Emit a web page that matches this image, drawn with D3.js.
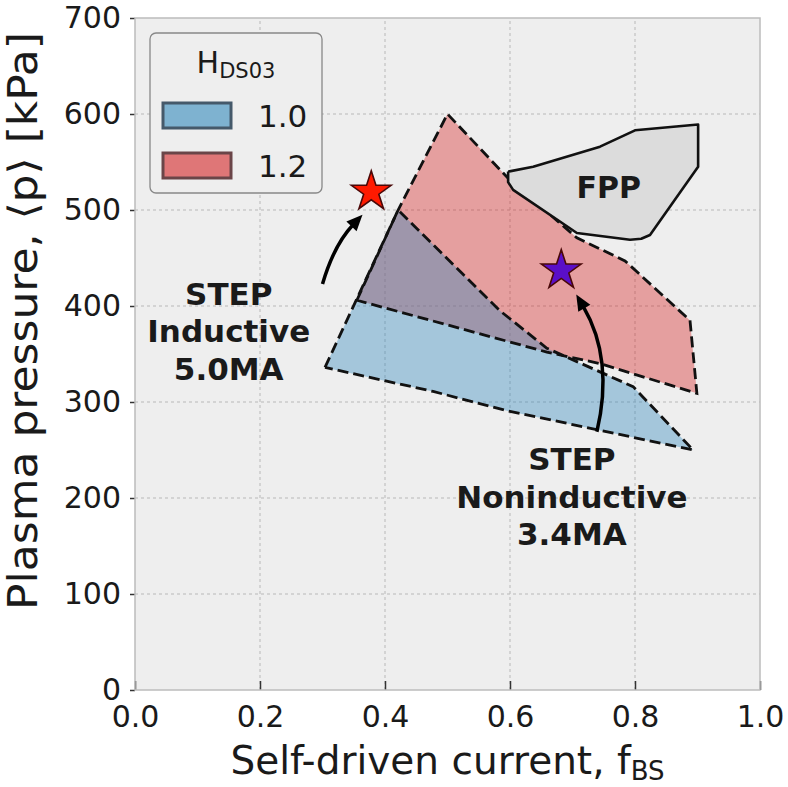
<html>
<head>
<meta charset="UTF-8"/>
<script src="https://d3js.org/d3.v7.min.js"></script>
<title>STEP operating space</title>
<style>
body { margin:0; background:#fff; }
text { font-family: 'DejaVu Sans', sans-serif; fill:#1a1a1a; }
</style>
</head>
<body>
<svg id='big' width=788 height=787></svg>
<script>
'use strict';

// axes
var xTicks = [0.0, 0.2, 0.4, 0.6, 0.8, 1.0];
var yTicks = [0, 100, 200, 300, 400, 500, 600, 700];

// H_DS03 = 1.0 region (fBS, kPa)
var regionH10 = [[0.304,336],[0.421,500],[0.584,395],[0.659,356],[0.797,316],
                 [0.893,250],[0.595,291],[0.477,311],[0.304,336]];
// H_DS03 = 1.2 region
var regionH12 = [[0.355,406],[0.421,500],[0.500,600],[0.597,533],[0.707,471],
                 [0.784,447],[0.888,385],[0.899,309],[0.744,340],[0.659,352],[0.355,406]];
// FPP region
var regionFPP = [[0.597,540],[0.637,545],[0.744,566],[0.800,583],[0.901,589],
                 [0.901,545],[0.824,474],[0.810,470],[0.792,469],[0.707,476],
                 [0.605,521],[0.597,529],[0.597,540]];

var legendNames = ['1.0', '1.2'];

// STEP points
var stepInductive = [0.378, 519];
var stepNoninductive = [0.682, 437];

// annotation arrows: tail -> tip
var arrowInductive = {from:[0.300,423], to:[0.364,495], rad:-0.12};
var arrowNoninductive = {from:[0.739,269], to:[0.706,412], rad:0.2};

var labelInductive = ['STEP', 'Inductive', '5.0MA'];
var labelNoninductive = ['STEP', 'Noninductive', '3.4MA'];
var labelInductivePos = [0.150, 362];
var labelNoninductivePos = [0.699, 190];
var labelFPPPos = [0.758, 513];

var blue = '#348ABD';
var red = '#d62728';

var svg = d3.select('#big');
var sx = d3.scaleLinear().domain([0, 1]).range([135, 760]);
var sy = d3.scaleLinear().domain([0, 700]).range([690, 18]);

function drawFrame(){
	svg.append('rect')
	.attr('x', sx(0)).attr('y', sy(700))
	.attr('width', sx(1) - sx(0)).attr('height', sy(0) - sy(700))
	.attr('fill', '#eeeeee');

	svg.selectAll('.vgrid')
	.data(xTicks.slice(1, -1))
	.enter().append('line')
	.attr('class', 'vgrid')
	.attr('x1', function(d){ return sx(d); })
	.attr('x2', function(d){ return sx(d); })
	.attr('y1', sy(0)).attr('y2', sy(700))
	.attr('stroke', '#b8b8b8').attr('stroke-width', 1)
	.attr('stroke-dasharray', '3,3');

	svg.selectAll('.hgrid')
	.data(yTicks.slice(1, -1))
	.enter().append('line')
	.attr('class', 'hgrid')
	.attr('y1', function(d){ return sy(d); })
	.attr('y2', function(d){ return sy(d); })
	.attr('x1', sx(0)).attr('x2', sx(1))
	.attr('stroke', '#b8b8b8').attr('stroke-width', 1)
	.attr('stroke-dasharray', '3,3');
}

function drawAxes(){
	var xAxis = d3.axisBottom(sx).tickValues(xTicks)
	.tickFormat(d3.format('.1f')).tickSizeInner(-9).tickSizeOuter(0).tickPadding(16);
	var gx = svg.append('g').attr('transform', 'translate(0,' + sy(0) + ')').call(xAxis);
	gx.select('.domain').remove();
	gx.selectAll('line').attr('stroke', '#333').attr('stroke-width', 1.5);
	gx.selectAll('text').attr('font-size', 30).attr('fill', '#1a1a1a')
	.attr('font-family', 'DejaVu Sans').attr('dy', '0.71em');

	var yAxis = d3.axisLeft(sy).tickValues(yTicks)
	.tickFormat(d3.format('d')).tickSizeInner(5).tickSizeOuter(0).tickPadding(9);
	var gy = svg.append('g').attr('transform', 'translate(' + sx(0) + ',0)').call(yAxis);
	gy.select('.domain').remove();
	gy.selectAll('line').attr('stroke', '#333').attr('stroke-width', 1.5);
	gy.selectAll('text').attr('font-size', 30).attr('fill', '#1a1a1a')
	.attr('font-family', 'DejaVu Sans');

	svg.append('rect')
	.attr('x', sx(0)).attr('y', sy(700))
	.attr('width', sx(1) - sx(0)).attr('height', sy(0) - sy(700))
	.attr('fill', 'none').attr('stroke', '#bcbcbc').attr('stroke-width', 1.5);

	var xl = svg.append('text')
	.attr('x', (sx(0) + sx(1)) / 2).attr('y', 774)
	.attr('text-anchor', 'middle').attr('font-size', 39);
	xl.append('tspan').text('Self-driven current, f');
	xl.append('tspan').text('BS').attr('font-size', 26).attr('dy', 6);

	svg.append('text')
	.attr('transform', 'translate(37,321) rotate(-90)')
	.attr('text-anchor', 'middle').attr('font-size', 40)
	.attr('textLength', 578).attr('lengthAdjust', 'spacingAndGlyphs')
	.text('Plasma pressure, \u27e8p\u27e9 [kPa]');
}

var line = d3.line()
	.x(function(d){ return sx(d[0]); })
	.y(function(d){ return sy(d[1]); });

function drawRegions(){
	svg.append('path').datum(regionH12).attr('d', line)
	.attr('fill', red).attr('fill-opacity', 0.4).attr('stroke', 'none');
	svg.append('path').datum(regionH10).attr('d', line)
	.attr('fill', blue).attr('fill-opacity', 0.4).attr('stroke', 'none');

	[regionH12, regionH10].forEach(function(r){
		svg.append('path').datum(r).attr('d', line)
		.attr('fill', 'none').attr('stroke', '#111').attr('stroke-width', 2.8)
		.attr('stroke-dasharray', '11,5').attr('stroke-linejoin', 'miter');
	});

	svg.append('path').datum(regionFPP).attr('d', line)
	.attr('fill', '#dcdcdc').attr('stroke', '#111').attr('stroke-width', 2.6)
	.attr('stroke-linejoin', 'round');
}

function drawArrow(a){
	var x1 = sx(a.from[0]), y1 = sy(a.from[1]);
	var x2 = sx(a.to[0]), y2 = sy(a.to[1]);
	var dx = x2 - x1, dy = y2 - y1;
	var cx = (x1 + x2) / 2 - a.rad * dy;
	var cy = (y1 + y2) / 2 + a.rad * dx;
	var ux = x2 - cx, uy = y2 - cy;
	var n = Math.sqrt(ux*ux + uy*uy);
	ux /= n; uy /= n;
	var hl = 16, hw = 7;
	var bx = x2 - ux * hl, by = y2 - uy * hl;
	var p = d3.path();
	p.moveTo(x1, y1);
	p.quadraticCurveTo(cx, cy, bx + ux * 2, by + uy * 2);
	svg.append('path').attr('d', p.toString())
	.attr('fill', 'none').attr('stroke', '#000').attr('stroke-width', 3.5);
	var h = d3.path();
	h.moveTo(x2, y2);
	h.lineTo(bx - uy * hw, by + ux * hw);
	h.lineTo(bx + uy * hw, by - ux * hw);
	h.closePath();
	svg.append('path').attr('d', h.toString()).attr('fill', '#000');
}

function drawStar(p, color){
	svg.append('path')
	.attr('d', d3.symbol().type(d3.symbolStar).size(490)())
	.attr('transform', 'translate(' + sx(p[0]) + ',' + sy(p[1]) + ')')
	.attr('fill', color).attr('stroke', '#4a0808').attr('stroke-width', 1.6);
}

function drawLabel(lines, pos){
	var t = svg.append('text')
	.attr('text-anchor', 'middle').attr('font-size', 31).attr('font-weight', 'bold');
	t.selectAll('tspan').data(lines).enter().append('tspan')
	.attr('x', sx(pos[0]))
	.attr('y', function(d, i){ return sy(pos[1]) + (i - 1) * 37.5; })
	.text(function(d){ return d; });
}

function drawLegend(){
	var g = svg.append('g').attr('transform', 'translate(150,33)');
	g.append('rect').attr('width', 172).attr('height', 160).attr('rx', 6)
	.attr('fill', '#eeeeee').attr('stroke', '#888').attr('stroke-width', 1.3);
	var tt = g.append('text').attr('x', 86).attr('y', 40).attr('text-anchor', 'middle')
	.attr('font-size', 30);
	tt.append('tspan').text('H');
	tt.append('tspan').text('DS03').attr('font-size', 21).attr('dy', 5);

	var items = g.selectAll('.item').data(legendNames).enter().append('g')
	.attr('class', 'item')
	.attr('transform', function(d, i){ return 'translate(0,' + (70 + i * 50) + ')'; });
	items.append('rect').attr('x', 13).attr('y', 0).attr('width', 68).attr('height', 25)
	.attr('fill', function(d, i){ return i == 0 ? blue : red; })
	.attr('fill-opacity', 0.6)
	.attr('stroke', function(d, i){ return i == 0 ? '#45596a' : '#6a4548'; })
	.attr('stroke-width', 3);
	items.append('text').attr('x', 108).attr('y', 24).attr('font-size', 31)
	.text(function(d){ return d; });
}

drawFrame();
drawRegions();
drawAxes();
drawStar(stepInductive, '#ff1a00');
drawStar(stepNoninductive, '#5a0fc8');
drawArrow(arrowInductive);
drawArrow(arrowNoninductive);
drawLabel(labelInductive, labelInductivePos);
drawLabel(labelNoninductive, labelNoninductivePos);
svg.append('text')
	.attr('x', sx(labelFPPPos[0])).attr('y', sy(labelFPPPos[1]))
	.attr('text-anchor', 'middle').attr('font-size', 30).attr('font-weight', 'bold')
	.text('FPP');
drawLegend();
</script>
</body>
</html>
